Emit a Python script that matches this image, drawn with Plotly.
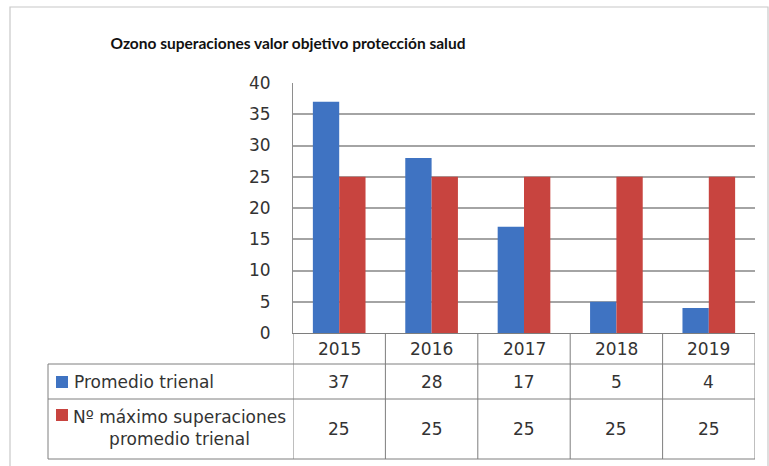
import plotly.graph_objects as go

# Data
years = ["2015", "2016", "2017", "2018", "2019"]
promedio_trienal = [37, 28, 17, 5, 4]
maximo_superaciones = [25, 25, 25, 25, 25]
series_names = ["Promedio trienal", "Nº máximo superaciones<br>promedio trienal"]
y_ticks = [0, 5, 10, 15, 20, 25, 30, 35, 40]

BLUE = "#3F73C2"
RED = "#C8443F"
GRID = "#A4A4A4"
TABLE_LINE = "#7E7E7E"
TEXT = "#333333"
TITLE_FONT = "Lato"
BODY_FONT = "DejaVu Sans"
BODY_SIZE = 17

W, H = 769, 466
L, R, T, B = 293, 755, 83, 333  # plot area in pixels

def px(x):
    return (x - L) / (R - L)

def py(y):
    return (B - y) / (B - T)

fig = go.Figure()
fig.add_trace(go.Bar(x=list(range(len(years))), y=promedio_trienal,
                     marker=dict(color=BLUE, line=dict(width=0)), name="Promedio trienal"))
fig.add_trace(go.Bar(x=list(range(len(years))), y=maximo_superaciones,
                     marker=dict(color=RED, line=dict(width=0)), name="Nº máximo superaciones promedio trienal"))

# data table rows (pixel y of the row borders)
row_top, row1, row2, row_bot = B, 364, 399, 459
left_col = 48

shapes = []
line = dict(color=TABLE_LINE, width=1)
for yy in (row1, row2, row_bot):
    shapes.append(dict(type="line", xref="paper", yref="paper",
                       x0=px(left_col), x1=1, y0=py(yy), y1=py(yy), line=line))
for i in range(len(years) + 1):
    shapes.append(dict(type="line", xref="x", yref="paper",
                       x0=i - 0.5, x1=i - 0.5, y0=py(row_top), y1=py(row_bot), line=line))
shapes.append(dict(type="line", xref="paper", yref="paper",
                   x0=px(left_col), x1=px(left_col), y0=py(row1), y1=py(row_bot), line=line))

# legend keys inside the table
for color, (ky0, ky1) in ((BLUE, (376, 388)), (RED, (409, 421))):
    shapes.append(dict(type="rect", xref="paper", yref="paper",
                       x0=px(56), x1=px(68), y0=py(ky1), y1=py(ky0),
                       fillcolor=color, line=dict(width=0)))

# outer chart frame
shapes.append(dict(type="rect", xref="paper", yref="paper",
                   x0=px(10), x1=px(768), y0=py(7), y1=py(470),
                   line=dict(color="#C8C8C8", width=1.2), layer="below"))

body = dict(size=BODY_SIZE, color=TEXT, family=BODY_FONT)
annotations = []

def cell(x, y, text, xref="x", xanchor="center", **kw):
    annotations.append(dict(x=x, y=py(y), xref=xref, yref="paper", text=text,
                            xanchor=xanchor, yanchor="middle", showarrow=False,
                            font=body, **kw))

for i, yr in enumerate(years):
    cell(i, 349, yr)
    cell(i, 381.5, str(promedio_trienal[i]))
    cell(i, 429, str(maximo_superaciones[i]))

cell(px(72), 381.5, series_names[0], xref="paper", xanchor="left")
cell(px(179), 428, series_names[1], xref="paper", xanchor="center", align="center")

fig.update_layout(
    width=W, height=H,
    margin=dict(l=L, r=W - R, t=T, b=H - B),
    paper_bgcolor="white", plot_bgcolor="white",
    barmode="group", bargap=0.43, bargroupgap=0,
    showlegend=False,
    title=dict(text="<b>Ozono superaciones valor objetivo protección salud</b>",
               xref="container", x=288 / W, xanchor="center",
               yref="container", y=1 - 44 / H, yanchor="middle",
               font=dict(size=15.5, color="#111111", family=TITLE_FONT)),
    xaxis=dict(type="linear", showticklabels=False, showgrid=False, showline=True,
               linecolor=TABLE_LINE, linewidth=1, range=[-0.5, len(years) - 0.5],
               zeroline=False),
    yaxis=dict(range=[0, 40], tickvals=y_ticks, showgrid=True, gridcolor=GRID, gridwidth=1.5,
               showline=True, linecolor="#8E8E8E", linewidth=1, zeroline=False,
               ticks="", ticklabelstandoff=18,
               tickfont=body),
    shapes=shapes,
    annotations=annotations,
)

fig.write_html("out.html")
